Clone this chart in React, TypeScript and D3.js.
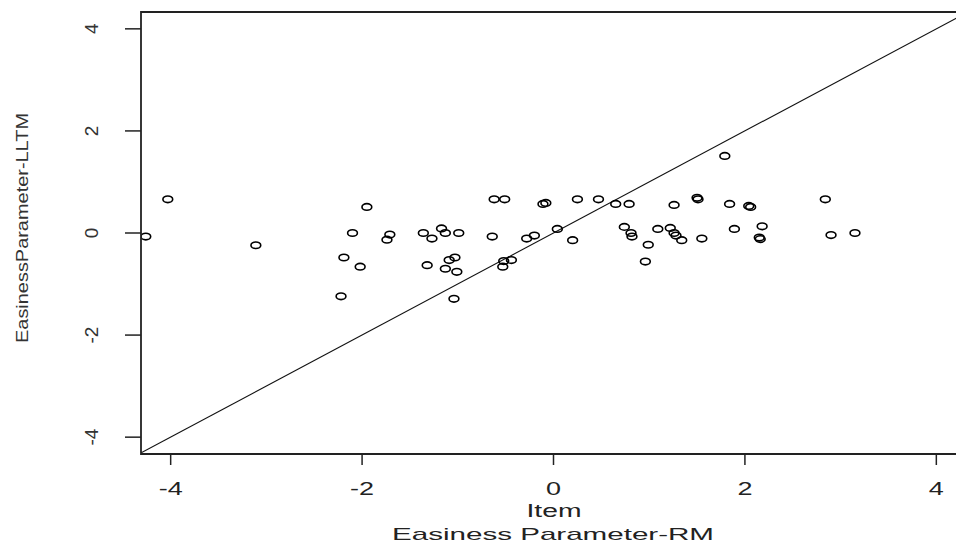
import React from "react";
import * as d3 from "d3";

// Item easiness parameters: Rasch model (x) vs LLTM (y)
const rmEasiness: number[] = [
  -4.26, -4.03, -3.11, -1.95, -2.10, -1.71, -1.74, -1.36, -1.27, -1.17,
  -1.13, -0.99, -2.19, -2.02, -1.32, -1.09, -1.03, -1.13, -1.01, -2.22,
  -1.04, -0.62, -0.51, -0.11, -0.08, 0.25, 0.47, 0.65, 0.79, -0.64,
  -0.28, -0.20, 0.04, 0.20, -0.52, -0.44, -0.53, 0.74, 0.81, 0.82,
  1.09, 1.22, 1.26, 1.28, 1.34, 0.99, 1.55, 0.96, 1.26, 1.50,
  1.51, 1.84, 2.04, 2.06, 1.89, 2.18, 2.15, 2.16, 1.79, 2.84,
  2.90, 3.15,
];
const lltmEasiness: number[] = [
  -0.07, 0.66, -0.24, 0.51, 0.00, -0.03, -0.13, 0.00, -0.11, 0.09,
  0.00, 0.00, -0.48, -0.66, -0.63, -0.53, -0.48, -0.70, -0.76, -1.24,
  -1.29, 0.66, 0.66, 0.57, 0.59, 0.66, 0.66, 0.57, 0.57, -0.07,
  -0.11, -0.05, 0.08, -0.14, -0.55, -0.53, -0.66, 0.12, 0.00, -0.07,
  0.08, 0.10, 0.00, -0.05, -0.14, -0.23, -0.11, -0.56, 0.55, 0.69,
  0.66, 0.57, 0.53, 0.51, 0.08, 0.13, -0.09, -0.12, 1.51, 0.66,
  -0.04, 0.00,
];
const xTicks: number[] = [-4, -2, 0, 2, 4];
const yTicks: number[] = [-4, -2, 0, 2, 4];
const xTitleTop = "Item";
const xTitle = "Easiness Parameter-RM";
const yTitle = "EasinessParameter-LLTM";

const W = 956;
const H = 544;
const left = 141;
const top = 12;
const bottom = 454;
const right = 966;

export default function App() {
  const x = d3.scaleLinear().domain([-4.31, 4.31]).range([left, right]);
  const y = d3.scaleLinear().domain([-4.33, 4.33]).range([bottom, top]);
  const pts = rmEasiness.map((v, i) => [v, lltmEasiness[i]] as [number, number]);
  const diag = d3.line<number>().x((d) => x(d)).y((d) => y(d))([-4.4, 4.4]) || "";
  const font = "Arial, 'Liberation Sans', sans-serif";
  return (
    <svg
      width={W}
      height={H}
      style={{ position: "absolute", left: 0, top: 0, background: "#fff" }}
    >
      <defs>
        <clipPath id="plotClip">
          <rect x={left} y={top} width={right - left} height={bottom - top} />
        </clipPath>
      </defs>
      <rect x={0} y={0} width={W} height={H} fill="#fff" />
      <g clipPath="url(#plotClip)">
        <path d={diag} stroke="#111" strokeWidth={1.1} fill="none" />
        {pts.map((p, i) => (
          <ellipse
            key={i}
            cx={x(p[0])}
            cy={y(p[1])}
            rx={4.9}
            ry={3.3}
            fill="none"
            stroke="#000"
            strokeWidth={1.6}
          />
        ))}
      </g>
      {/* box */}
      <path
        d={`M${right},${top}H${left}V${bottom}H${right}`}
        fill="none"
        stroke="#222"
        strokeWidth={1.8}
      />
      {/* x axis ticks */}
      {xTicks.map((t) => (
        <g key={"x" + t}>
          <line x1={x(t)} x2={x(t)} y1={bottom} y2={bottom + 11} stroke="#222" strokeWidth={1.5} />
          <text
            x={x(t)}
            y={495}
            textAnchor="middle"
            fontFamily={font}
            fontSize={18}
            transform={`translate(${x(t)},0) scale(1.5,1) translate(${-x(t)},0)`}
            fill="#222"
          >
            {t}
          </text>
        </g>
      ))}
      {/* y axis ticks */}
      {yTicks.map((t) => (
        <g key={"y" + t}>
          <line x1={left - 16} x2={left} y1={y(t)} y2={y(t)} stroke="#222" strokeWidth={1.5} />
          <text
            transform={`translate(98,${y(t)}) rotate(-90)`}
            textAnchor="middle"
            fontFamily={font}
            fontSize={19}
            fill="#333"
          >
            {t}
          </text>
        </g>
      ))}
      <text
        x={554}
        y={517}
        textAnchor="middle"
        fontFamily={font}
        fontSize={18}
        textLength={55}
        lengthAdjust="spacingAndGlyphs"
        fill="#222"
      >
        {xTitleTop}
      </text>
      <text
        x={553}
        y={540}
        textAnchor="middle"
        fontFamily={font}
        fontSize={17}
        textLength={322}
        lengthAdjust="spacingAndGlyphs"
        fill="#222"
      >
        {xTitle}
      </text>
      <text
        transform={`translate(28,228) rotate(-90)`}
        textAnchor="middle"
        fontFamily={font}
        fontSize={17}
        textLength={230}
        lengthAdjust="spacingAndGlyphs"
        fill="#333"
      >
        {yTitle}
      </text>
    </svg>
  );
}
